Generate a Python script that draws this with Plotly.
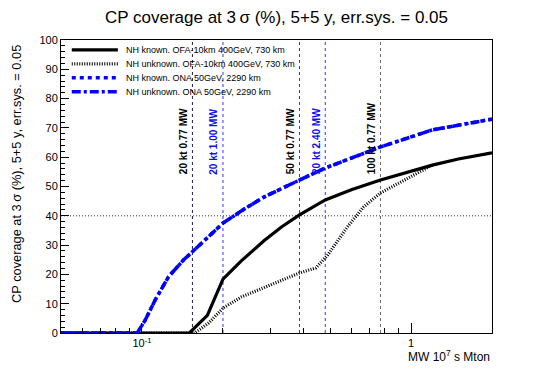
import math
import plotly.graph_objects as go

# ---------------- data ----------------
ofa_known_x = [0.05, 0.15, 0.175, 0.2, 0.234, 0.284, 0.33, 0.385, 0.48, 0.6, 0.77, 1.0, 1.2, 1.5, 2.0]
ofa_known_y = [0, 0, 6, 18.4, 24.6, 31.5, 36.2, 40.3, 45.4, 48.9, 52.2, 55.3, 57.3, 59.4, 61.5]

ofa_unknown_x = [0.05, 0.157, 0.177, 0.2, 0.234, 0.302, 0.385, 0.443, 0.49, 0.58, 0.666, 0.77, 1.2]
ofa_unknown_y = [0, 0, 3.4, 8.5, 12.3, 16.4, 20.5, 22.2, 26.6, 36.2, 43, 47.8, 57.3]

ona_x = [0.05, 0.096, 0.1028, 0.112, 0.1255, 0.1426, 0.17, 0.2, 0.24, 0.284, 0.385, 0.48, 0.77, 1.2, 2.0]
ona_known_y = [0, 0, 4.4, 11.3, 19.2, 24.9, 31.4, 37.5, 42.3, 46.4, 52.2, 56.3, 63.5, 69.3, 73]
ona_unknown_y = [0, 0, 4.4, 11.3, 19.2, 24.9, 31.4, 37.5, 42.3, 46.4, 52.2, 56.3, 63.5, 69.3, 73]

names = ["NH known. OFA-10km 400GeV, 730 km",
         "NH unknown. OFA-10km 400GeV, 730 km",
         "NH known. ONA 50GeV, 2290 km",
         "NH unknown. ONA 50GeV, 2290 km"]

# exposure markers: detector mass (kt) and beam power (MW), 10 years
marker_kt = [20, 20, 50, 20, 100]
marker_mw = [0.77, 1.00, 0.77, 2.40, 0.77]
marker_col = ["#1a1a4a", "#3333ff", "#444444", "#3333ff", "#666666"]
marker_txt = ["#000000", "#1010ee", "#000000", "#1010ee", "#000000"]
marker_x = [kt / 1000.0 * mw * 10 for kt, mw in zip(marker_kt, marker_mw)]

threshold = 40
x_range = [0.05, 2.0]
x_major = [0.1, 1]
x_major_txt = ["10<sup>-1</sup>", "1"]
x_minor = [0.06, 0.07, 0.08, 0.09, 0.2, 0.3, 0.4, 0.5, 0.6, 0.7, 0.8, 0.9, 2]

title = "CP coverage at 3\u2009\u03c3 (%), 5+5 y, err.sys. = 0.05"
ytitle = "CP coverage at 3\u2009\u03c3 (%), 5+5 y, err.sys. = 0.05"
xtitle = "MW 10<sup>7</sup> s Mton"

FONT = "Liberation Sans, Arial, Helvetica, sans-serif"

# style per series (colour, width, dash)
styles = [("black", 3.2, "solid"),
          ("black", 3.2, "1px,1.5px"),
          ("#0000ff", 3.5, "4px,4px"),
          ("#0000ff", 3.5, "9px,3px,3px,3px")]
series = [(ofa_known_x, ofa_known_y), (ofa_unknown_x, ofa_unknown_y),
          (ona_x, ona_known_y), (ona_x, ona_unknown_y)]

fig = go.Figure()

# threshold horizontal line
fig.add_trace(go.Scatter(x=x_range, y=[threshold, threshold], mode="lines",
                         line=dict(color="#333333", width=1, dash="1px,2px"),
                         showlegend=False, hoverinfo="skip"))

# vertical exposure lines
for xv, c in zip(marker_x, marker_col):
    fig.add_trace(go.Scatter(x=[xv, xv], y=[0, 100], mode="lines",
                             line=dict(color=c, width=1, dash="3px,3px"),
                             showlegend=False, hoverinfo="skip"))

for (sx, sy), (c, w, d), n in zip(series, styles, names):
    fig.add_trace(go.Scatter(x=sx, y=sy, mode="lines", name=n, showlegend=False,
                             line=dict(color=c, width=w, dash=d)))

# dummy trace for minor-tick axis
fig.add_trace(go.Scatter(x=x_range, y=[0, 0], xaxis="x2", mode="lines",
                         line=dict(width=0), showlegend=False, hoverinfo="skip"))

annotations = []
shapes = []
for kt, mw, xv, tc in zip(marker_kt, marker_mw, marker_x, marker_txt):
    annotations.append(dict(x=math.log10(xv), y=53.5, xref="x", yref="y",
                            text=f"<b>{kt} kt {mw:.2f} MW</b>",
                            textangle=-90, showarrow=False, xanchor="right", yanchor="bottom",
                            xshift=-2, font=dict(family=FONT, size=10, color=tc)))

# manual legend (compact ROOT-style)
leg_x0, leg_x1, leg_tx = 0.025, 0.132, 0.146
leg_y0, leg_dy = 0.966, 0.0475
for i, ((c, w, d), n) in enumerate(zip(styles, names)):
    yy = leg_y0 - i * leg_dy
    shapes.append(dict(type="line", xref="paper", yref="paper", x0=leg_x0, x1=leg_x1, y0=yy, y1=yy,
                       line=dict(color=c, width=w, dash=d)))
    annotations.append(dict(x=leg_tx, y=yy, xref="paper", yref="paper", text=n, showarrow=False,
                            xanchor="left", yanchor="middle",
                            font=dict(family=FONT, size=9, color="black")))

annotations.append(dict(x=-0.102, y=0.99, xref="paper", yref="paper", text=ytitle, textangle=-90,
                        showarrow=False, xanchor="center", yanchor="top",
                        font=dict(family=FONT, size=12.8, color="black")))
annotations.append(dict(x=1.0, y=-0.045, xref="paper", yref="paper", text=xtitle,
                        showarrow=False, xanchor="right", yanchor="top",
                        font=dict(family=FONT, size=12, color="black")))

fig.update_layout(
    width=552, height=374,
    margin=dict(l=61, r=60, t=40, b=41),
    paper_bgcolor="white", plot_bgcolor="white",
    title=dict(text=title, x=0.5, xref="paper", xanchor="center", y=0.955, yanchor="middle",
               font=dict(family=FONT, size=17, color="black")),
    font=dict(family=FONT, color="black"),
    xaxis=dict(type="log", range=[-1.30103, 0.30103], tickvals=x_major, ticktext=x_major_txt,
               ticks="inside", ticklen=10, tickcolor="black", showgrid=False, zeroline=False,
               showline=True, linecolor="black", linewidth=1, mirror=True,
               tickfont=dict(family=FONT, size=11)),
    xaxis2=dict(type="log", range=[-1.30103, 0.30103], overlaying="x", anchor="y",
                tickvals=x_minor, ticks="inside", ticklen=5, tickcolor="black",
                showticklabels=False, showgrid=False, zeroline=False, showline=False),
    yaxis=dict(range=[0, 100], dtick=10, ticks="inside", ticklen=8, tickcolor="black",
               minor=dict(dtick=2, ticks="inside", ticklen=4, tickcolor="black"),
               showgrid=False, zeroline=False, showline=True, linecolor="black", linewidth=1,
               mirror=True, tickfont=dict(family=FONT, size=11)),
    annotations=annotations,
    shapes=shapes,
    showlegend=False,
)

fig.write_html("out.html", config={"displayModeBar": False},
               post_script="document.body.style.margin='0';document.body.style.overflow='hidden';")
